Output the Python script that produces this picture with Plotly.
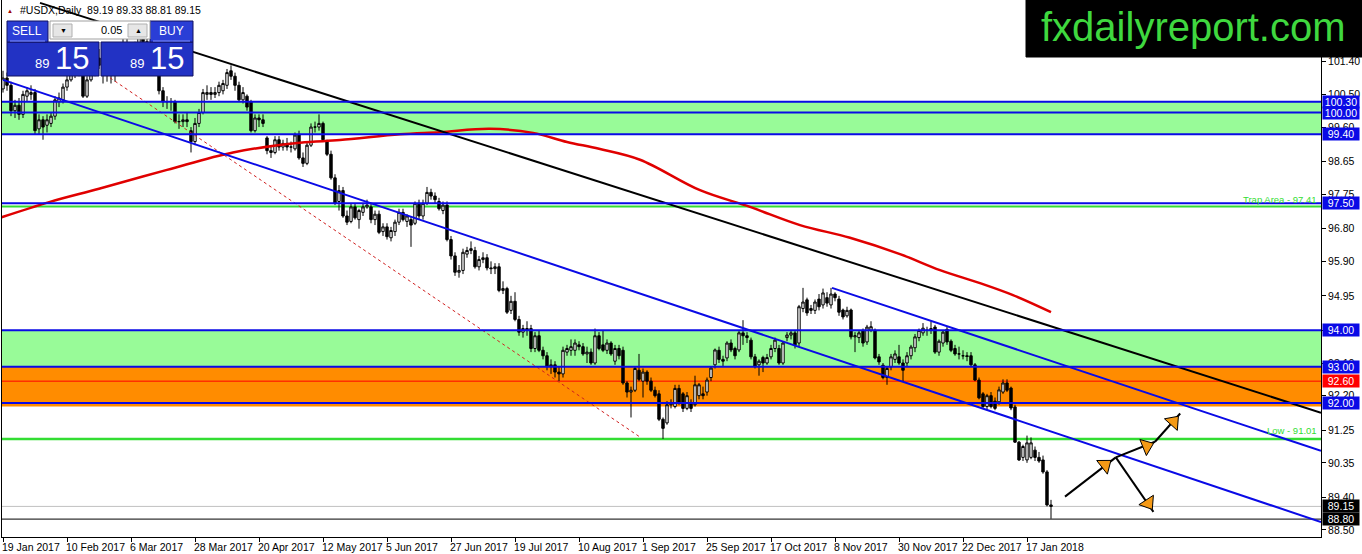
import pandas as pd
import plotly.graph_objects as go

# trading days shown on the chart (weekdays without the broker's closed days)
holidays = ["2017-04-14", "2017-12-25", "2018-01-01"]
days = pd.bdate_range("2017-01-19", "2018-01-25")
days = days[~days.isin(pd.to_datetime(holidays))]

opens = [
    100.65, 100.95, 100.75, 100.05, 100.2, 99.95, 100.45, 100.5, 100.55, 99.55, 99.8, 99.65, 99.7, 99.9, 100.3, 100.35,
    100.7, 100.9, 101.05, 101.3, 101.1, 100.45, 100.9, 101.05, 101.5, 101.3, 101.05, 101.1, 101.05, 101.15, 101.75, 101.85,
    101.45, 101.3, 101.8, 102.1, 101.95, 101.35, 101.3, 101.6, 100.6, 100.3, 100.3, 100.3, 99.75, 99.75, 99.8, 99.5,
    99.2, 99.7, 100.0, 100.5, 100.55, 100.5, 100.55, 100.6, 100.75, 101.15, 101.0, 100.75, 100.35, 100.45, 100.3, 99.5,
    99.85, 99.8, 99.3, 98.95, 98.9, 99.25, 99.05, 99.15, 99.05, 99.0, 99.38, 98.75, 98.6, 99.1, 99.6, 99.6,
    99.7, 99.2, 98.85, 98.2, 97.55, 97.85, 97.15, 97.0, 97.4, 97.05, 97.25, 97.4, 97.4, 97.05, 97.2, 96.72,
    96.85, 96.55, 96.72, 96.98, 97.25, 97.0, 97.05, 96.95, 97.5, 97.15, 97.5, 97.8, 97.7, 97.55, 97.3, 97.45,
    96.5, 96.05, 95.6, 95.65, 96.1, 96.2, 96.2, 95.75, 95.95, 96.0, 95.72, 95.7, 95.75, 95.1, 95.15, 94.55,
    94.8, 94.3, 93.95, 94.05, 94.05, 93.5, 93.85, 93.45, 93.3, 93.0, 93.05, 92.85, 92.8, 93.4, 93.45, 93.45,
    93.6, 93.55, 93.35, 93.4, 93.1, 93.85, 93.6, 93.45, 93.65, 93.15, 93.5, 93.45, 92.55, 92.3, 92.35, 92.9,
    92.6, 92.85, 92.6, 92.35, 92.25, 91.55, 91.45, 91.95, 91.9, 92.4, 92.25, 91.85, 92.0, 91.95, 92.2, 92.25,
    92.3, 92.7, 93.05, 93.45, 93.2, 93.24, 93.65, 93.5, 93.46, 93.93, 93.85, 93.73, 93.27, 93.05, 93.25, 93.1,
    93.27, 93.5, 93.5, 93.1, 93.8, 93.87, 93.93, 93.65, 94.6, 94.84, 94.6, 94.55, 94.86, 94.7, 94.9, 94.7,
    95.0, 94.86, 94.56, 94.4, 94.56, 93.82, 93.8, 94.0, 93.68, 94.0, 94.0, 93.27, 93.04, 92.7, 92.99, 93.2,
    93.27, 93.1, 93.1, 93.3, 93.52, 93.8, 93.93, 94.0, 94.0, 94.09, 93.4, 93.65, 94.03, 93.7, 93.5, 93.35,
    93.3, 93.3, 93.3, 93.05, 92.63, 92.25, 91.9, 92.2, 92.05, 92.03, 92.3, 92.55, 92.41, 91.89, 90.92, 90.5,
    90.43, 90.5, 90.7, 90.5, 90.43, 90.1, 89.19,
]
highs = [
    101.15, 101.1, 100.85, 100.35, 100.4, 100.6, 100.7, 100.75, 100.65, 99.95, 99.9, 99.95, 100.0, 100.45, 100.55, 100.8,
    101.05, 101.2, 101.55, 101.75, 101.2, 101.0, 101.15, 101.6, 101.75, 101.4, 101.3, 101.3, 101.3, 101.85, 102.25, 102.05,
    101.75, 101.95, 102.2, 102.25, 102.1, 101.55, 101.75, 101.7, 100.7, 100.45, 100.4, 100.35, 99.95, 99.95, 100.0, 99.6,
    99.85, 100.1, 100.65, 100.75, 100.7, 100.7, 100.85, 100.9, 101.2, 101.3, 101.1, 100.85, 100.7, 100.5, 100.35, 99.95,
    99.95, 99.95, 99.35, 99.1, 99.35, 99.35, 99.25, 99.3, 99.2, 99.45, 99.5, 98.9, 99.2, 99.7, 99.75, 99.95,
    99.75, 99.25, 98.95, 98.3, 98.0, 97.95, 97.3, 97.5, 97.5, 97.35, 97.5, 97.6, 97.5, 97.3, 97.3, 96.95,
    96.95, 96.85, 97.05, 97.35, 97.35, 97.2, 97.15, 97.55, 97.6, 97.6, 97.95, 97.9, 97.8, 97.65, 97.55, 97.55,
    96.6, 96.15, 95.8, 96.25, 96.3, 96.45, 96.3, 96.05, 96.15, 96.1, 95.9, 95.85, 95.85, 95.35, 95.2, 94.95,
    95.05, 94.4, 94.15, 94.25, 94.15, 93.95, 94.0, 93.55, 93.4, 93.2, 93.15, 93.0, 93.55, 93.6, 93.75, 93.75,
    93.7, 93.65, 93.55, 93.5, 94.05, 93.95, 94.0, 93.75, 93.7, 93.6, 93.6, 93.55, 92.6, 92.45, 93.0, 93.35,
    92.95, 92.9, 92.7, 92.45, 92.35, 91.6, 92.05, 92.1, 92.5, 92.5, 92.3, 92.3, 92.1, 92.75, 92.55, 92.45,
    92.7, 93.0, 93.5, 93.55, 93.3, 93.7, 93.75, 93.55, 94.0, 94.28, 93.95, 93.8, 93.35, 93.2, 93.3, 93.35,
    93.6, 93.8, 93.6, 93.7, 93.95, 94.0, 94.0, 94.7, 95.17, 94.9, 94.7, 94.85, 95.0, 95.15, 95.05, 95.17,
    95.05, 94.95, 94.6, 94.65, 94.6, 93.95, 94.0, 94.05, 94.15, 94.25, 94.05, 93.35, 93.1, 93.0, 93.35, 93.45,
    93.6, 93.2, 93.4, 93.6, 93.9, 94.05, 94.2, 94.1, 94.25, 94.15, 93.75, 94.0, 94.1, 93.75, 93.6, 93.55,
    93.45, 93.4, 93.4, 93.1, 92.7, 92.3, 92.25, 92.3, 92.15, 92.45, 92.65, 92.65, 92.45, 91.95, 90.95, 90.85,
    91.1, 91.05, 90.8, 90.65, 90.55, 90.15, 89.33,
]
lows = [
    100.55, 100.6, 99.9, 99.85, 99.8, 99.85, 100.3, 100.35, 99.4, 99.4, 99.25, 99.45, 99.6, 99.8, 100.15, 100.25,
    100.6, 100.85, 100.95, 101.0, 100.4, 100.4, 100.85, 101.0, 101.2, 100.8, 100.85, 100.8, 100.85, 101.1, 101.7, 101.3,
    101.2, 101.25, 101.7, 101.8, 101.2, 101.15, 101.2, 100.5, 100.15, 100.1, 100.05, 99.7, 99.55, 99.6, 99.6, 98.9,
    99.1, 99.6, 99.95, 100.35, 100.35, 100.4, 100.45, 100.5, 100.65, 100.9, 100.6, 100.3, 100.25, 100.05, 99.45, 99.45,
    99.6, 99.6, 98.85, 98.75, 98.85, 98.95, 98.95, 98.95, 98.9, 98.95, 98.7, 98.5, 98.55, 99.05, 99.45, 99.5,
    99.2, 98.8, 98.15, 97.45, 97.3, 97.1, 96.9, 96.95, 97.05, 96.8, 97.15, 97.35, 96.95, 96.9, 96.65, 96.6,
    96.5, 96.45, 96.6, 96.9, 97.0, 96.85, 96.3, 96.9, 97.05, 97.05, 97.45, 97.6, 97.5, 97.3, 97.2, 96.45,
    95.95, 95.5, 95.45, 95.55, 96.0, 96.1, 95.7, 95.65, 95.85, 95.65, 95.55, 95.55, 95.05, 95.0, 94.45, 94.45,
    94.25, 93.85, 93.8, 93.85, 93.4, 93.4, 93.4, 93.2, 92.9, 92.8, 92.7, 92.6, 92.7, 93.3, 93.3, 93.3,
    93.45, 93.3, 93.1, 93.05, 93.05, 93.45, 93.4, 93.35, 93.3, 93.05, 93.2, 92.5, 92.15, 91.6, 92.3, 92.6,
    92.15, 92.5, 92.3, 92.15, 91.5, 91.01, 91.4, 91.85, 91.85, 91.95, 91.75, 91.8, 91.75, 91.9, 92.1, 92.1,
    92.2, 92.6, 92.95, 93.1, 93.0, 93.15, 93.4, 93.2, 93.4, 93.6, 93.65, 93.2, 92.95, 92.75, 92.85, 93.05,
    93.2, 93.4, 93.05, 93.05, 93.7, 93.75, 93.5, 93.55, 94.5, 94.4, 94.45, 94.45, 94.55, 94.6, 94.65, 94.6,
    94.8, 94.4, 94.3, 94.35, 93.75, 93.4, 93.65, 93.55, 93.6, 93.95, 93.2, 93.05, 92.65, 92.5, 92.9, 93.1,
    93.05, 92.6, 93.0, 93.2, 93.4, 93.7, 93.85, 93.85, 93.9, 93.35, 93.3, 93.55, 93.6, 93.4, 93.3, 93.2,
    93.2, 93.15, 93.0, 92.6, 92.1, 91.85, 91.8, 91.85, 91.8, 91.95, 92.25, 92.3, 91.8, 90.9, 90.4, 90.4,
    90.35, 90.45, 90.4, 90.35, 90.05, 89.15, 88.81,
]
closes = [
    100.95, 100.75, 100.05, 100.2, 99.95, 100.5, 100.6, 100.55, 99.5, 99.8, 99.6, 99.8, 99.9, 100.35, 100.4, 100.7,
    100.9, 101.05, 101.3, 101.2, 100.45, 100.9, 101.05, 101.5, 101.3, 101.05, 101.1, 101.05, 101.15, 101.75, 101.85, 101.45,
    101.3, 101.8, 102.1, 101.95, 101.35, 101.3, 101.6, 100.6, 100.3, 100.3, 100.3, 99.75, 99.75, 99.8, 99.75, 99.2,
    99.7, 100.0, 100.55, 100.55, 100.5, 100.55, 100.75, 100.8, 101.1, 101.0, 100.75, 100.35, 100.55, 100.15, 99.5, 99.85,
    99.8, 99.7, 98.95, 98.9, 99.25, 99.05, 99.15, 99.05, 99.05, 99.38, 98.75, 98.6, 99.1, 99.6, 99.6, 99.7,
    99.25, 98.85, 98.2, 97.5, 97.85, 97.15, 96.98, 97.4, 97.1, 97.3, 97.4, 97.45, 97.05, 97.2, 96.7, 96.85,
    96.58, 96.75, 96.98, 97.25, 97.05, 97.15, 96.9, 97.5, 97.15, 97.5, 97.8, 97.7, 97.6, 97.35, 97.45, 96.5,
    96.05, 95.6, 95.65, 96.15, 96.2, 96.25, 95.75, 95.95, 96.0, 95.72, 95.7, 95.75, 95.1, 95.15, 94.5, 94.8,
    94.3, 93.95, 94.05, 94.0, 93.5, 93.85, 93.45, 93.3, 93.0, 93.05, 92.85, 92.8, 93.45, 93.5, 93.55, 93.65,
    93.55, 93.35, 93.4, 93.1, 93.85, 93.5, 93.45, 93.65, 93.35, 93.5, 93.3, 92.55, 92.3, 92.35, 92.95, 92.65,
    92.85, 92.6, 92.35, 92.2, 91.55, 91.3, 91.95, 92.0, 92.4, 92.0, 91.85, 92.2, 91.85, 92.5, 92.5, 92.2,
    92.63, 92.96, 93.46, 93.2, 93.15, 93.65, 93.46, 93.3, 93.93, 93.85, 93.8, 93.27, 93.0, 93.15, 93.1, 93.25,
    93.5, 93.73, 93.1, 93.65, 93.87, 93.93, 93.6, 94.65, 94.78, 94.48, 94.55, 94.78, 94.65, 95.03, 94.75, 95.0,
    94.9, 94.5, 94.37, 94.55, 93.82, 93.85, 93.93, 93.65, 94.09, 94.1, 93.24, 93.13, 92.7, 92.95, 93.27, 93.35,
    93.1, 92.9, 93.3, 93.54, 93.82, 94.0, 94.06, 94.0, 94.05, 93.4, 93.7, 93.95, 93.68, 93.45, 93.35, 93.35,
    93.3, 93.28, 93.05, 92.63, 92.14, 91.9, 92.2, 91.9, 91.85, 92.36, 92.55, 92.35, 91.86, 90.92, 90.43, 90.8,
    90.9, 90.9, 90.5, 90.4, 90.1, 89.19, 89.15,
]

# 200-day moving average (bar, value)
ma_bars = [-0.75, 11.75, 24, 41, 57.5, 74.25, 84.25, 99.25, 109.25, 121.75, 132.5, 141, 149,
           159.25, 174.25, 186.75, 199.25, 211.75, 224.25, 234.25, 244.25, 252.5, 262]
ma_vals = [97.1, 97.54, 97.9, 98.42, 98.9, 99.17, 99.24, 99.4, 99.46, 99.55, 99.44, 99.19, 99.0,
           98.7, 97.86, 97.4, 96.9, 96.55, 96.1, 95.66, 95.3, 94.97, 94.5]

# drawn trend lines (bar, price) end points
black_bars, black_prices = [9.25, 329.5], [103.02, 91.73]
blue_low_bars, blue_low_prices = [0, 329.5], [100.9, 88.72]
blue_up_bars, blue_up_prices = [207.25, 329.5], [95.17, 90.68]
red_dash_bars, red_dash_prices = [25.5, 159.25], [101.05, 91.06]

# scenario arrows
arrow_x0 = [265.5, 278.2, 288.0, 278.2]
arrow_y0 = [89.42, 90.5, 90.93, 90.5]
arrow_x1 = [278.2, 288.0, 294.3, 287.6]
arrow_y1 = [90.5, 90.93, 91.71, 89.0]
head_x = [275.5, 285.9, 292.6, 286.3]
head_y = [90.29, 90.81, 91.48, 89.24]
head_angle = [52, 68, 42, 147]

# horizontal levels
blue_levels = [100.30, 100.00, 99.40, 97.50, 94.00, 93.00, 92.00]
green_zones = [(99.40, 100.30), (93.00, 94.00)]
orange_zone = (91.90, 93.00)
red_level = 92.60
trap_level = 97.41
low_level = 91.01
bid_level = 89.15
mark_level = 88.80
box_levels = [100.30, 100.00, 99.40, 97.50, 94.00, 93.00, 92.60, 92.00, 89.15, 88.80]
box_colors = ["#0a0ae6"] * 6 + ["#ff0000", "#0a0ae6", "#000000", "#000000"]

ytick_vals = [88.50, 89.40, 90.35, 91.25, 92.20, 93.10, 94.00, 94.95, 95.90,
              96.80, 97.75, 98.65, 99.60, 100.50, 101.40]

bars = list(range(len(days)))
label_bars = bars[::16]
label_text = [f"{days[i].day} {days[i].strftime('%b %Y')}" for i in label_bars]

W, H = 1362, 554
ML, MR, MT, MB = 2, 41, 0, 17


def px(x):
    return (x - ML) / (W - ML - MR)


def py(y):
    return (H - MB - y) / (H - MT - MB)


BLUE = "#0a0ae6"
FONT = "Liberation Sans"

fig = go.Figure()

fig.add_trace(go.Candlestick(
    x=bars, open=opens, high=highs, low=lows, close=closes,
    increasing=dict(line=dict(color="black", width=1), fillcolor="white"),
    decreasing=dict(line=dict(color="black", width=1), fillcolor="black"),
    whiskerwidth=0, hoverinfo="skip", showlegend=False,
))

fig.add_trace(go.Scatter(x=ma_bars, y=ma_vals, mode="lines", line=dict(color="#e00000", width=2.5),
                         line_shape="spline", hoverinfo="skip"))
fig.add_trace(go.Scatter(x=red_dash_bars, y=red_dash_prices, mode="lines",
                         line=dict(color="#d02020", width=1, dash="dot"), hoverinfo="skip"))
fig.add_trace(go.Scatter(x=black_bars, y=black_prices, mode="lines", line=dict(color="black", width=2),
                         hoverinfo="skip"))
fig.add_trace(go.Scatter(x=blue_low_bars, y=blue_low_prices, mode="lines", line=dict(color=BLUE, width=2),
                         hoverinfo="skip"))
fig.add_trace(go.Scatter(x=blue_up_bars, y=blue_up_prices, mode="lines", line=dict(color=BLUE, width=2),
                         hoverinfo="skip"))

for x0, y0, x1, y1 in zip(arrow_x0, arrow_y0, arrow_x1, arrow_y1):
    fig.add_trace(go.Scatter(x=[x0, x1], y=[y0, y1], mode="lines", line=dict(color="black", width=2),
                             hoverinfo="skip"))
fig.add_trace(go.Scatter(x=head_x, y=head_y, mode="markers", hoverinfo="skip",
                         marker=dict(symbol="triangle-up", size=15, angle=head_angle, color="#f59a16",
                                     line=dict(color="black", width=1))))

shapes = []
for lo, hi in green_zones:
    shapes.append(dict(type="rect", xref="paper", x0=0, x1=1, y0=lo, y1=hi, fillcolor="#98fb98",
                       line_width=0, layer="below"))
shapes.append(dict(type="rect", xref="paper", x0=0, x1=1, y0=orange_zone[0], y1=orange_zone[1],
                   fillcolor="#ff8c00", line_width=0, layer="below"))
shapes.append(dict(type="line", xref="paper", x0=0, x1=1, y0=red_level, y1=red_level,
                   line=dict(color="#ff0000", width=1), layer="below"))
for lv, col, wd in [(trap_level, "#33dd33", 2), (low_level, "#33dd33", 2.5),
                    (bid_level, "#c0c0c0", 1), (mark_level, "#000000", 1)]:
    shapes.append(dict(type="line", xref="paper", x0=0, x1=1, y0=lv, y1=lv,
                       line=dict(color=col, width=wd), layer="below"))
for lv in blue_levels:
    shapes.append(dict(type="line", xref="paper", x0=0, x1=1, y0=lv, y1=lv,
                       line=dict(color=BLUE, width=2), layer="above"))

# one-click trading panel and site logo (pixel boxes)
def box(x0, y0, x1, y1, fill, line="#101060"):
    shapes.append(dict(type="rect", xref="paper", yref="paper", x0=px(x0), x1=px(x1), y0=py(y1), y1=py(y0),
                       fillcolor=fill, line=dict(color=line, width=1), layer="above"))


box(7, 42, 99, 76, "#2232c4")
box(101, 42, 193, 76, "#2232c4")
box(7, 21, 48, 42, "#2a3ed6")
box(150, 21, 193, 42, "#2a3ed6")
box(50, 21, 150, 39, "#ffffff", "#a0a0a0")
box(53, 24, 72, 37, "#e6e6e6", "#b0b0b0")
box(128, 24, 147, 37, "#e6e6e6", "#b0b0b0")
box(1026, 0, 1362, 57, "#000000", "#000000")
for xa, xb in [(10, 45), (153, 190)]:
    shapes.append(dict(type="line", xref="paper", yref="paper", x0=px(xa), x1=px(xb), y0=py(41), y1=py(41),
                       line=dict(color="#8090ff", width=1), layer="above"))

ann = []


def text(x, y, s, size, color="white", anchor="center", family=FONT):
    ann.append(dict(xref="paper", yref="paper", x=px(x), y=py(y), text=s, showarrow=False,
                    xanchor=anchor, yanchor="middle", font=dict(family=family, size=size, color=color)))


text(27, 31, "SELL", 12)
text(171, 31, "BUY", 12)
text(63, 31, "▼", 7, "black")
text(138, 31, "▲", 7, "black")
text(124, 30, "0.05", 11, "black", "right")
text(42, 63, "89", 13)
text(72, 58, "15", 31)
text(137, 63, "89", 13)
text(167, 58, "15", 31)
text(1193, 27, "fxdailyreport.com", 40, "#3fd83f", "center", "Liberation Sans")
text(5, 11, "▲", 6, "#a00000", "left")
text(18, 10, "#USDX,Daily  89.19 89.33 88.81 89.15", 10.5, "black", "left")

for lv, col in zip(box_levels, box_colors):
    ann.append(dict(xref="paper", yref="y", x=1, y=lv, text=f"{lv:.2f}", showarrow=False,
                    xanchor="left", yanchor="middle", xshift=1, bgcolor=col, borderpad=0,
                    width=36, height=12, font=dict(family=FONT, size=10.5, color="white")))

ann.append(dict(xref="paper", yref="y", x=1, y=trap_level, text="Trap Area - 97.41", showarrow=False,
                xanchor="right", yanchor="bottom", xshift=-2, yshift=0,
                font=dict(family=FONT, size=9.5, color="#33dd33")))
ann.append(dict(xref="paper", yref="y", x=1, y=low_level, text="Low - 91.01", showarrow=False,
                xanchor="right", yanchor="bottom", xshift=-2, yshift=1,
                font=dict(family=FONT, size=9.5, color="#33dd33")))

for b, s in zip(label_bars, label_text):
    ann.append(dict(xref="x", yref="paper", x=b, y=0, text=s, showarrow=False, xanchor="left",
                    yanchor="top", xshift=-3, yshift=-2, font=dict(family=FONT, size=10.5, color="black")))

fig.update_layout(
    width=W, height=H, margin=dict(l=ML, r=MR, t=MT, b=MB),
    paper_bgcolor="white", plot_bgcolor="white", showlegend=False,
    font=dict(family=FONT, size=10.5, color="black"),
    shapes=shapes, annotations=ann, boxgap=0.15,
)
fig.update_xaxes(range=[-0.25, 329.5], tickvals=label_bars, showticklabels=False, ticks="outside",
                 ticklen=4, tickcolor="black", showgrid=False, zeroline=False, showline=True,
                 linecolor="black", linewidth=1, mirror=True, rangeslider_visible=False)
fig.update_yaxes(range=[88.307, 103.1], side="right", tickvals=ytick_vals,
                 ticktext=[f"{v:.2f}" for v in ytick_vals], ticks="outside", ticklen=4, tickcolor="black",
                 showgrid=False, zeroline=False, showline=True, linecolor="black", linewidth=1, mirror=True)

fig.write_html("out.html", config={"displayModeBar": False},
               post_script="document.body.style.margin='0';")
